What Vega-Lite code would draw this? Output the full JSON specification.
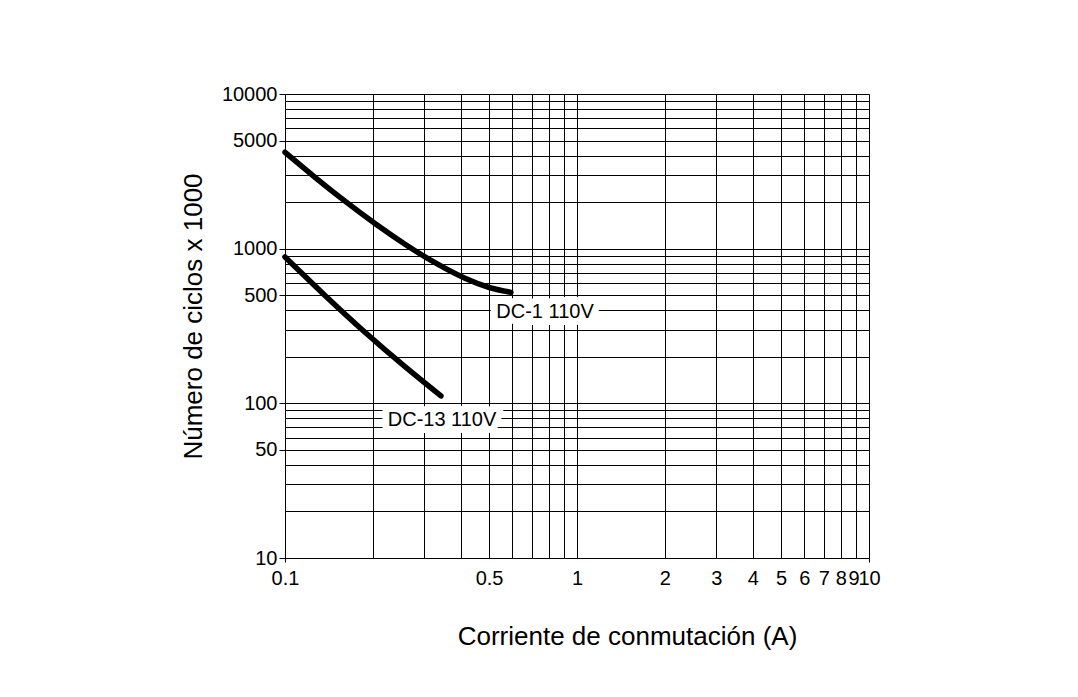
{
  "$schema": "https://vega.github.io/schema/vega-lite/v6.json",
  "autosize": "none",
  "padding": {"left": 285, "top": 94, "right": 209, "bottom": 139},
  "width": 584,
  "height": 464,
  "background": "white",
  "config": {
    "font": "Liberation Sans",
    "view": {"stroke": null},
    "axis": {
      "grid": true,
      "gridColor": "#000",
      "gridWidth": 1,
      "gridOpacity": 1,
      "domainColor": "#000",
      "domainWidth": 1,
      "tickColor": "#000",
      "labelColor": "#000",
      "titleColor": "#000",
      "labelFont": "Liberation Sans",
      "titleFont": "Liberation Sans",
      "labelFontSize": 20,
      "titleFontSize": 26,
      "titleFontWeight": "normal",
      "labelOverlap": false,
      "labelFlush": false,
      "labelBound": false
    }
  },
  "datasets": {
    "curves": [
      {"serie": "DC-1 110V", "corriente": 0.1, "ciclos": 4200},
      {"serie": "DC-1 110V", "corriente": 0.1267, "ciclos": 2895},
      {"serie": "DC-1 110V", "corriente": 0.1605, "ciclos": 2029},
      {"serie": "DC-1 110V", "corriente": 0.2033, "ciclos": 1455},
      {"serie": "DC-1 110V", "corriente": 0.2576, "ciclos": 1069},
      {"serie": "DC-1 110V", "corriente": 0.3264, "ciclos": 811},
      {"serie": "DC-1 110V", "corriente": 0.4134, "ciclos": 643},
      {"serie": "DC-1 110V", "corriente": 0.5036, "ciclos": 559},
      {"serie": "DC-1 110V", "corriente": 0.594, "ciclos": 522},
      {"serie": "DC-13 110V", "corriente": 0.1, "ciclos": 883},
      {"serie": "DC-13 110V", "corriente": 0.1371, "ciclos": 498},
      {"serie": "DC-13 110V", "corriente": 0.1879, "ciclos": 288},
      {"serie": "DC-13 110V", "corriente": 0.2576, "ciclos": 172.5},
      {"serie": "DC-13 110V", "corriente": 0.342, "ciclos": 111.6}
    ],
    "labels": [
      {"serie": "DC-1 110V", "corriente": 0.777, "ciclos": 389},
      {"serie": "DC-13 110V", "corriente": 0.345, "ciclos": 78}
    ]
  },
  "layer": [
    {
      "data": {"name": "curves"},
      "mark": {"type": "line", "color": "#000", "strokeWidth": 5.5, "strokeCap": "round", "strokeJoin": "round", "interpolate": "natural"},
      "encoding": {
        "x": {
          "field": "corriente", "type": "quantitative",
          "scale": {"type": "log", "domain": [0.1, 10], "nice": false},
          "axis": {
            "title": "Corriente de conmutación (A)",
            "titleX": 342,
            "values": [0.1, 0.2, 0.3, 0.4, 0.5, 0.6, 0.7, 0.8, 0.9, 1, 2, 3, 4, 5, 6, 7, 8, 9, 10],
            "labelExpr": "indexof([0.2,0.3,0.4,0.6,0.7,0.8,0.9], datum.value) >= 0 ? '' : datum.label",
            "format": "~g",
            "tickSize": 4,
            "tickOpacity": {"condition": {"test": "datum.value == 0.1 || datum.value == 10", "value": 1}, "value": 0},
            "labelOffset": {"condition": {"test": "datum.value == 9", "value": -2}, "value": 0},
            "labelPadding": 6,
            "titlePadding": 35
          }
        },
        "y": {
          "field": "ciclos", "type": "quantitative",
          "scale": {"type": "log", "domain": [10, 10000], "nice": false},
          "axis": {
            "title": "Número de ciclos x 1000",
            "titleY": 222,
            "values": [10, 20, 30, 40, 50, 60, 70, 80, 90, 100, 200, 300, 400, 500, 600, 700, 800, 900, 1000, 2000, 3000, 4000, 5000, 6000, 7000, 8000, 9000, 10000],
            "labelExpr": "indexof([10,50,100,500,1000,5000,10000], datum.value) >= 0 ? datum.label : ''",
            "format": "d",
            "tickSize": 6,
            "tickOpacity": {"condition": {"test": "indexof([10,50,100,500,1000,5000,10000], datum.value) >= 0", "value": 1}, "value": 0},
            "labelPadding": 2,
            "titlePadding": 15
          }
        },
        "detail": {"field": "serie"}
      }
    },
    {
      "data": {"name": "labels"},
      "mark": {"type": "text", "font": "Liberation Sans", "fontSize": 20, "align": "center", "baseline": "middle", "stroke": "white", "strokeWidth": 14, "strokeJoin": "round", "fill": "white"},
      "encoding": {
        "x": {"field": "corriente", "type": "quantitative"},
        "y": {"field": "ciclos", "type": "quantitative"},
        "text": {"field": "serie"}
      }
    },
    {
      "data": {"name": "labels"},
      "mark": {"type": "text", "font": "Liberation Sans", "fontSize": 20, "align": "center", "baseline": "middle", "color": "#000"},
      "encoding": {
        "x": {"field": "corriente", "type": "quantitative"},
        "y": {"field": "ciclos", "type": "quantitative"},
        "text": {"field": "serie"}
      }
    }
  ]
}
